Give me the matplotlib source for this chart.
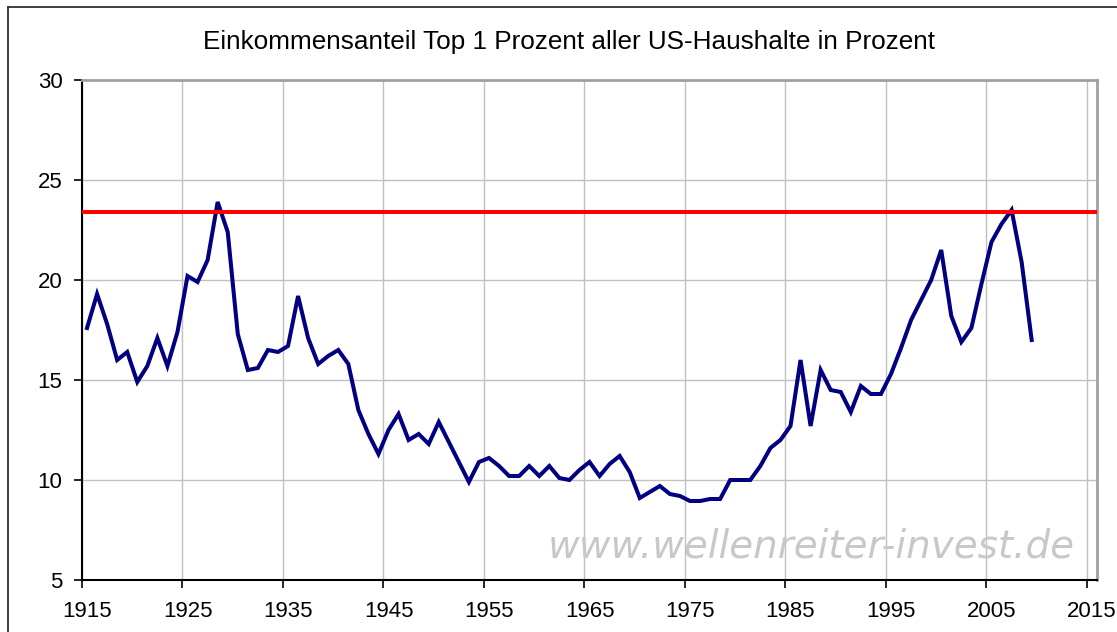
import numpy as np
import matplotlib
matplotlib.use("Agg")
import matplotlib.pyplot as plt
from matplotlib.lines import Line2D

# Anteil Top 1%
years = np.arange(1915, 2010)
share = [17.6, 19.3, 17.8, 16.0, 16.4, 14.9, 15.7, 17.1, 15.7, 17.4,
         20.2, 19.9, 21.0, 23.9, 22.4, 17.3, 15.5, 15.6, 16.5, 16.4,
         16.7, 19.2, 17.1, 15.8, 16.2, 16.5, 15.8, 13.5, 12.3, 11.3,
         12.5, 13.3, 12.0, 12.3, 11.8, 12.9, 11.9, 10.9, 9.9, 10.9,
         11.1, 10.7, 10.2, 10.2, 10.7, 10.2, 10.7, 10.1, 10.0, 10.5,
         10.9, 10.2, 10.8, 11.2, 10.4, 9.1, 9.4, 9.7, 9.3, 9.2,
         8.95, 8.95, 9.05, 9.05, 10.0, 10.0, 10.0, 10.7, 11.6, 12.0,
         12.7, 16.0, 12.7, 15.5, 14.5, 14.4, 13.4, 14.7, 14.3, 14.3,
         15.3, 16.6, 18.0, 19.0, 20.0, 21.5, 18.2, 16.9, 17.6, 19.8,
         21.9, 22.8, 23.5, 20.9, 17.0]
level = 23.4
year_labels = ['1915', '1925', '1935', '1945', '1955', '1965', '1975', '1985', '1995', '2005', '2015']
y_ticks = [5, 10, 15, 20, 25, 30]

plt.rcParams['font.family'] = ['Liberation Sans', 'DejaVu Sans']

W, H = 1117, 632
fig = plt.figure(figsize=(W / 100, H / 100), dpi=100)
ax = fig.add_axes([82 / W, 1 - 580 / H, (1097 - 82) / W, (580 - 80) / H])

# Rahmen um das Diagramm
fig.add_artist(Line2D([8 / W, 8 / W], [0, 1 - 7 / H], transform=fig.transFigure, color='#303030', lw=1.3))
fig.add_artist(Line2D([8 / W, 1], [1 - 7 / H, 1 - 7 / H], transform=fig.transFigure, color='#303030', lw=1.3))

ax.plot(years, share, color='#000080', lw=2.9, solid_joinstyle='miter', zorder=4)
ax.axhline(level, color='#ff0000', lw=2.9, zorder=5)

ax.set_xlim(1914.5, 2015.5)
ax.set_ylim(5, 30)

major_x = [1914.5 + 10 * k for k in range(len(year_labels))]
ax.set_xticks(major_x)
ax.set_xticklabels([])
ax.set_xticks([int(s) for s in year_labels], minor=True)
ax.set_xticklabels(year_labels, minor=True, fontsize=16)
ax.tick_params(axis='x', which='major', direction='out', length=6, width=1.2, color='black')
ax.tick_params(axis='x', which='minor', length=0, pad=15)

ax.set_yticks(y_ticks)
ax.set_yticklabels([str(v) for v in y_ticks], fontsize=16)
ax.tick_params(axis='y', direction='out', length=6, width=1.2, pad=8)

ax.grid(True, which='major', color='#c0c0c0', lw=1.0)
ax.set_axisbelow(True)

for s in ['left', 'bottom']:
    ax.spines[s].set_color('black')
    ax.spines[s].set_linewidth(1.5)
for s in ['top', 'right']:
    ax.spines[s].set_color('#a0a0a0')
    ax.spines[s].set_linewidth(2.0)

fig.text(569 / W, 1 - 42 / H, 'Einkommensanteil Top 1 Prozent aller US-Haushalte in Prozent',
         ha='center', va='center', fontsize=18.8)

fig.text(1075 / W, 1 - 546 / H, 'www.wellenreiter-invest.de', ha='right', va='center',
         fontsize=28, color='#c8c8c8', style='italic', family='DejaVu Sans', zorder=1)

fig.savefig('out.png', dpi=100)
